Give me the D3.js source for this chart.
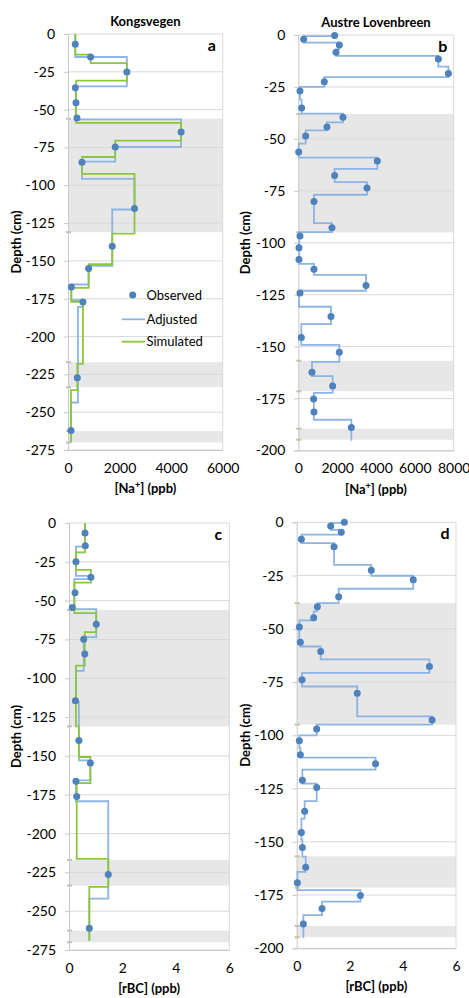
<!DOCTYPE html>
<html><head><meta charset="utf-8">
<script src="https://cdn.jsdelivr.net/npm/d3@7"></script>
<style>body{margin:0;background:#fff} text{font-family:Lato,'Open Sans',sans-serif;fill:#000}</style>
</head><body><svg id="chart" width="469" height="998"></svg>
<script>
// ---------------- DATA ----------------
// Observed points: [depth (cm), value]
const kongNaObserved = [[-6.8,283],[-15.2,877],[-25.1,2283],[-35.5,284],[-45.4,310],[-55.5,348],[-64.8,4386],[-74.7,1832],[-84.8,542],[-115.4,2580],[-140.3,1716],[-155,800],[-167.2,129],[-177.1,580],[-227.3,361],[-262.1,116]];
// Step layers: [top depth, bottom depth, value]
const kongNaAdjusted = [[0,15.2,284],[15.2,34.6,2283],[34.6,56.4,300],[56.4,74.7,4386],[74.7,84.4,1832],[84.4,95.8,542],[95.8,116,2580],[116,153.3,1716],[153.3,165.6,800],[165.6,176,129],[176,180.4,580],[180.4,243.6,387],[243.6,270,116]];
const kongNaSimulated = [[0,13.7,284],[13.7,19.2,877],[19.2,30.8,2283],[30.8,58.8,315],[58.8,70.5,4386],[70.5,81.3,1832],[81.3,92.5,542],[92.5,131.9,2580],[131.9,152.2,1716],[152.2,167.8,800],[167.8,177,129],[177,218,580],[218,235.4,361],[235.4,269.6,116]];

const austNaObserved = [[0.3,1871],[2.1,275],[4.8,2112],[8.3,1940],[11.6,7211],[18.5,7727],[22.5,1339],[27,86],[35.1,172],[39.6,2301],[44.3,1477],[48.6,378],[56.3,20],[60.6,4069],[67.6,1871],[73.7,3537],[80.1,807],[92.8,1734],[96.8,86],[102.4,34],[108.1,34],[112.7,807],[120.6,3486],[124.2,86],[135.5,1683],[145.6,155],[152.7,2112],[162.3,704],[168.9,1768],[175.2,790],[181.5,807],[188.9,2730]];
const austNaAdjusted = [[0,0.5,1871],[0.5,3.7,275],[3.7,6.9,2112],[6.9,10,1940],[10,15.2,7211],[15.2,20.3,7727],[20.3,25,1339],[25,31.1,86],[31.1,37.8,172],[37.8,42.1,2301],[42.1,45.9,1477],[45.9,52.3,378],[52.3,59,20],[59,64.4,4069],[64.4,70.8,1871],[70.8,76.9,3537],[76.9,90.6,807],[90.6,94.9,1734],[94.9,110.2,50],[110.2,115.5,807],[115.5,123.1,3486],[123.1,130.8,40],[130.8,139.2,1683],[139.2,149.2,155],[149.2,157.3,2112],[157.3,164.2,704],[164.2,172.3,1768],[172.3,185.2,800],[185.2,195.3,2730]];

const kongBcObserved = [[6.4,0.6],[14.6,0.61],[24.9,0.26],[34.9,0.82],[45,0.225],[54.5,0.125],[65.2,1.02],[74.8,0.55],[84.3,0.59],[114.5,0.24],[140.1,0.37],[154.6,0.8],[166.4,0.26],[176.2,0.29],[226.4,1.47],[261,0.76]];
const kongBcAdjusted = [[0,15.2,0.6],[15.2,34.1,0.26],[34.1,36.2,0.82],[36.2,55.5,0.2],[55.5,73.5,1.02],[73.5,95.2,0.55],[95.2,115.4,0.26],[115.4,152.9,0.37],[152.9,165.7,0.8],[165.7,179.2,0.26],[179.2,241.9,1.47],[241.9,269,0.76]];
const kongBcSimulated = [[0,18.9,0.6],[18.9,30.2,0.26],[30.2,38.4,0.82],[38.4,58.1,0.2],[58.1,70.3,1.02],[70.3,91.8,0.59],[91.8,131,0.26],[131,150.7,0.37],[150.7,167.5,0.8],[167.5,216.3,0.29],[216.3,234.3,1.47],[234.3,268.9,0.76]];

const austBcObserved = [[0,1.795],[1.7,1.28],[4.7,1.68],[8,0.176],[11.5,1.406],[22.5,2.81],[27,4.39],[34.9,1.58],[39.6,0.778],[44.8,0.64],[49.1,0.1],[56.3,0.138],[60.7,0.904],[67.7,5.0],[73.9,0.2],[80.3,2.28],[92.8,5.1],[97,0.753],[102.5,0.1],[109.1,0.138],[113.3,2.97],[121.1,0.213],[124.5,0.753],[135.6,0.3],[145.6,0.176],[152.7,0.213],[162,0.339],[169.2,0.025],[175.2,2.4],[181.3,0.954],[188.6,0.251]];
const austBcAdjusted = [[0,0.3,1.795],[0.3,3.6,1.28],[3.6,5.8,1.68],[5.8,9.8,0.176],[9.8,20,1.406],[20,25.1,2.81],[25.1,31.2,4.39],[31.2,37.9,1.58],[37.9,41.8,0.778],[41.8,46,0.64],[46,55.1,0.1],[55.1,58.3,0.138],[58.3,64.4,0.904],[64.4,70.7,5.0],[70.7,77.1,0.2],[77.1,91.1,2.28],[91.1,95,5.1],[95,100,0.753],[100,106,0.1],[106,110.5,0.138],[110.5,116.1,2.97],[116.1,122.7,0.213],[122.7,130.9,0.753],[130.9,139.1,0.3],[139.1,149,0.176],[149,157,0.213],[157,164.1,0.339],[164.1,172.7,0.025],[172.7,178.1,2.4],[178.1,184.4,0.954],[184.4,195,0.251]];

// Shaded depth intervals [top, bottom]
const kongBands = [[56,131],[217,233.5],[262.5,270]];
const austBands = [[38,95],[156.8,171.5],[189.5,194.8]];

const naTicks = [0,2000,4000,6000];
const naTicksAust = [0,2000,4000,6000,8000];
const bcTicks = [0,2,4,6];
const kongDepthTicks = [0,-25,-50,-75,-100,-125,-150,-175,-200,-225,-250,-275];
const austDepthTicks = [0,-25,-50,-75,-100,-125,-150,-175,-200];

const titles = ["Kongsvegen","Austre Lovenbreen"];
const legendLabels = ["Observed","Adjusted","Simulated"];

// ---------------- LAYOUT ----------------
const C = {obs:"#4f81bd", adj:"#8db4e2", sim:"#8cc63f", grid:"#d9d9d9", band:"#e7e7e7"};
const panels = [
  {letter:"a", box:[68,222.7,34,450], xt:naTicks, yt:kongDepthTicks, obs:kongNaObserved, adj:kongNaAdjusted, sim:kongNaSimulated, bands:kongBands, el:"Na", title:titles[0], dashCol:"#bfbfbf"},
  {letter:"b", box:[298.3,453.7,35,450.5], xt:naTicksAust, yt:austDepthTicks, obs:austNaObserved, adj:austNaAdjusted, sim:null, bands:austBands, el:"Na", title:titles[1], dashCol:"#c4bd97"},
  {letter:"c", box:[69,229.3,523,950], xt:bcTicks, yt:kongDepthTicks, obs:kongBcObserved, adj:kongBcAdjusted, sim:kongBcSimulated, bands:kongBands, el:"rBC", title:null, dashCol:"#bfbfbf"},
  {letter:"d", box:[296.7,456,522.3,948.3], xt:bcTicks, yt:austDepthTicks, obs:austBcObserved, adj:austBcAdjusted, sim:null, bands:austBands, el:"rBC", title:null, dashCol:"#c4bd97"}
];

const svg = d3.select("#chart");

panels.forEach(p => {
  const [x0,x1,y0,y1] = p.box;
  const x = d3.scaleLinear().domain([0, d3.max(p.xt)]).range([x0,x1]);
  const y = d3.scaleLinear().domain([d3.min(p.yt), 0]).range([y1,y0]);
  const g = svg.append("g");

  // bands
  g.selectAll("rect.band").data(p.bands).enter().append("rect")
    .attr("x", x0).attr("width", x1-x0)
    .attr("y", d => y(-d[0])).attr("height", d => y(-d[1]) - y(-d[0]))
    .attr("fill", C.band);
  p.bands.forEach(b => b.forEach(dp => {
    g.append("line").attr("x1", x0-2).attr("x2", x0+3).attr("y1", y(-dp)).attr("y2", y(-dp))
      .attr("stroke", p.dashCol).attr("stroke-width", 2);
  }));

  // grid
  g.selectAll("line.grid").data(p.yt).enter().append("line")
    .attr("x1", x0).attr("x2", x1).attr("y1", d => y(d)).attr("y2", d => y(d))
    .attr("stroke", C.grid).attr("stroke-width", 1);
  g.append("line").attr("x1", x1).attr("x2", x1).attr("y1", y0).attr("y2", y1).attr("stroke", C.grid);

  // axes
  const ax = g.append("g").attr("transform", `translate(${x0},0)`)
    .call(d3.axisLeft(y).tickValues(p.yt).tickSize(4).tickPadding(9).tickFormat(d => String(d)));
  ax.select(".domain").attr("stroke", "#c8c8c8");
  ax.selectAll(".tick line").attr("stroke", "#c8c8c8");
  ax.selectAll("text").attr("font-size", 14).attr("font-family", "Lato").attr("fill","#222");

  const bx = g.append("g").attr("transform", `translate(0,${y1})`)
    .call(d3.axisBottom(x).tickValues(p.xt).tickSize(0).tickPadding(13).tickFormat(d => String(d)));
  bx.select(".domain").attr("stroke", "#c8c8c8");
  bx.selectAll("text").attr("font-size", 14).attr("font-family", "Lato").attr("fill","#222");

  // step lines
  const stepPts = layers => {
    const pts = [];
    layers.forEach(l => { pts.push([l[2], -l[0]]); pts.push([l[2], -l[1]]); });
    return pts;
  };
  const line = d3.line().x(d => x(d[0])).y(d => y(d[1]));
  g.append("path").attr("d", line(stepPts(p.adj))).attr("fill","none")
    .attr("stroke", C.adj).attr("stroke-width", 1.8);
  if (p.sim) g.append("path").attr("d", line(stepPts(p.sim))).attr("fill","none")
    .attr("stroke", C.sim).attr("stroke-width", 1.8);

  g.selectAll("circle.obs").data(p.obs).enter().append("circle")
    .attr("cx", d => x(d[1])).attr("cy", d => y(-Math.abs(d[0]))).attr("r", 3.5)
    .attr("fill", C.obs);

  // letter
  g.append("text").attr("x", x1-11).attr("y", y0+17).attr("text-anchor","middle")
    .attr("font-size", 16).attr("font-weight", "bold").text(p.letter);

  // title
  if (p.title) g.append("text").attr("x", (x0+x1)/2).attr("y", y0-8).attr("text-anchor","middle")
    .attr("font-size", 13).attr("font-weight","bold").text(p.title);

  // y label
  const ylx = p.letter === "a" || p.letter === "c" ? 17 : 246;
  g.append("text").attr("transform", `translate(${ylx + 4},${(y0+y1)/2}) rotate(-90)`)
    .attr("text-anchor","middle").attr("font-size", 13).attr("font-weight","bold").text("Depth (cm)");

  // x label
  const xl = g.append("text").attr("x", (x0+x1)/2).attr("y", y1+43).attr("text-anchor","middle")
    .attr("font-size", 13).attr("font-weight","bold");
  xl.append("tspan").text("[" + p.el);
  if (p.el === "Na") xl.append("tspan").attr("dy", -5).attr("font-size", 9).text("+");
  xl.append("tspan").attr("dy", p.el === "Na" ? 5 : 0).text("] (ppb)");

  // legend
  if (p.letter === "a") {
    const lg = g.append("g");
    lg.append("circle").attr("cx", 132.7).attr("cy", 295).attr("r", 3.5).attr("fill", C.obs);
    lg.append("line").attr("x1", 121.7).attr("x2", 145).attr("y1", 319.3).attr("y2", 319.3).attr("stroke", C.adj).attr("stroke-width", 1.8);
    lg.append("line").attr("x1", 121.7).attr("x2", 145).attr("y1", 341.7).attr("y2", 341.7).attr("stroke", C.sim).attr("stroke-width", 1.8);
    [295, 319.3, 341.7].forEach((yy, i) => {
      lg.append("text").attr("x", 146.5).attr("y", yy + 4.5).attr("font-size", 13).attr("fill","#222").text(legendLabels[i]);
    });
  }
});
</script></body></html>
